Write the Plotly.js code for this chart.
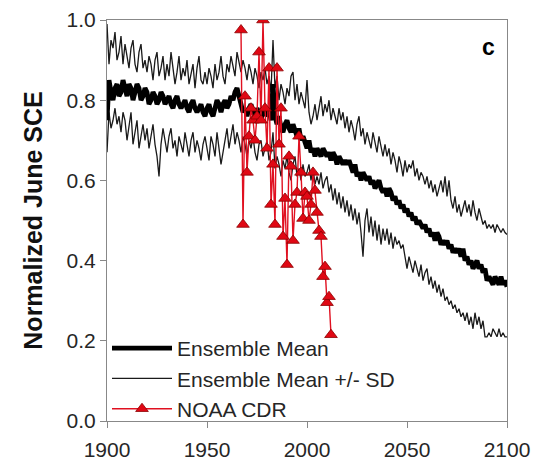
<!DOCTYPE html>
<html>
<head>
<meta charset="utf-8">
<script src="https://cdn.plot.ly/plotly-3.0.1.min.js"></script>
<style>
  html, body { margin: 0; padding: 0; background: #fff; }
  #chart { width: 533px; height: 461px; }
</style>
</head>
<body>
<div id="chart"></div>
<script>
// ---- Data ----
var modelStartYear = 1900;

var ensembleMean = [
  0.75, 0.85, 0.82, 0.80, 0.83, 0.84, 0.81, 0.82, 0.85, 0.83,
  0.81, 0.84, 0.83, 0.80, 0.82, 0.84, 0.83, 0.80, 0.81, 0.83,
  0.82, 0.79, 0.80, 0.82, 0.81, 0.79, 0.80, 0.82, 0.81, 0.79,
  0.80, 0.81, 0.79, 0.78, 0.80, 0.81, 0.79, 0.78, 0.79, 0.80,
  0.78, 0.77, 0.79, 0.80, 0.78, 0.77, 0.78, 0.79, 0.77, 0.76,
  0.78, 0.79, 0.77, 0.76, 0.78, 0.80, 0.79, 0.77, 0.79, 0.80,
  0.78, 0.79, 0.81, 0.80, 0.82, 0.83, 0.81, 0.79, 0.77, 0.78,
  0.76, 0.78, 0.79, 0.77, 0.76, 0.78, 0.77, 0.75, 0.78, 0.77,
  0.76, 0.78, 0.75, 0.84, 0.76, 0.74, 0.76, 0.73, 0.72, 0.74,
  0.75, 0.73, 0.72, 0.74, 0.72, 0.71, 0.73, 0.70, 0.71, 0.69,
  0.68, 0.70, 0.67, 0.68, 0.66, 0.68, 0.67, 0.66, 0.68, 0.67,
  0.66, 0.67, 0.65, 0.67, 0.66, 0.64, 0.66, 0.65, 0.64, 0.65,
  0.64, 0.65, 0.63, 0.62, 0.64, 0.61, 0.62, 0.60, 0.62, 0.61,
  0.60, 0.61, 0.59, 0.60, 0.58, 0.59, 0.60, 0.58, 0.57, 0.58,
  0.56, 0.58, 0.57, 0.55, 0.56, 0.54, 0.55, 0.53, 0.54, 0.52,
  0.53, 0.51, 0.52, 0.50, 0.51, 0.49, 0.50, 0.49, 0.48, 0.49,
  0.47, 0.48, 0.46, 0.47, 0.45, 0.47, 0.46, 0.44, 0.45, 0.44,
  0.45, 0.43, 0.44, 0.42, 0.43, 0.42, 0.43, 0.41, 0.43, 0.40,
  0.41, 0.39, 0.40, 0.38, 0.39, 0.40, 0.38, 0.39, 0.37, 0.38,
  0.35, 0.36, 0.35, 0.34, 0.36, 0.35, 0.34, 0.36, 0.34, 0.35,
  0.335
];

var meanPlusSD = [
  0.99, 0.89, 0.95, 0.93, 0.97, 0.90, 0.92, 0.96, 0.89, 0.94,
  0.91, 0.88, 0.93, 0.95, 0.89, 0.87, 0.92, 0.94, 0.88, 0.90,
  0.87, 0.91, 0.89, 0.85, 0.90, 0.92, 0.86, 0.88, 0.91, 0.85,
  0.89, 0.86, 0.92, 0.88, 0.84, 0.87, 0.91, 0.85, 0.88, 0.86,
  0.90, 0.84, 0.87, 0.89, 0.83, 0.88, 0.91, 0.85, 0.84, 0.87,
  0.84, 0.88, 0.86, 0.83, 0.89, 0.85, 0.87, 0.91, 0.86, 0.84,
  0.89, 0.87, 0.91, 0.88, 0.86, 0.92, 0.89, 0.87, 0.90, 0.88,
  0.85, 0.89, 0.87, 0.84, 0.88, 0.86, 0.83, 0.87, 0.85, 0.88,
  0.84, 0.86, 0.82, 0.95, 0.83, 0.86, 0.80, 0.84, 0.82, 0.79,
  0.83, 0.81, 0.86, 0.87, 0.80, 0.84, 0.79, 0.82, 0.80, 0.78,
  0.85, 0.77, 0.74, 0.76, 0.79, 0.75, 0.78, 0.81, 0.76, 0.79,
  0.77, 0.80, 0.75, 0.78, 0.76, 0.74, 0.78, 0.75, 0.77, 0.73,
  0.76, 0.72, 0.75, 0.73, 0.70, 0.74, 0.76, 0.71, 0.73, 0.69,
  0.72, 0.70, 0.68, 0.72, 0.69, 0.67, 0.71, 0.68, 0.66, 0.69,
  0.66, 0.68, 0.64, 0.67, 0.65, 0.62, 0.66, 0.64, 0.61, 0.65,
  0.62, 0.64, 0.63, 0.65, 0.61, 0.63, 0.60, 0.62, 0.61, 0.59,
  0.61, 0.58, 0.60, 0.57, 0.59, 0.56, 0.58, 0.60, 0.57, 0.61,
  0.56, 0.60, 0.55, 0.53, 0.56, 0.52, 0.54, 0.51, 0.53, 0.55,
  0.52, 0.54, 0.51, 0.55, 0.52, 0.50, 0.53, 0.51, 0.49, 0.50,
  0.48, 0.49, 0.48, 0.49, 0.47, 0.49, 0.48, 0.47, 0.48, 0.47,
  0.465
];

var meanMinusSD = [
  0.67, 0.77, 0.73, 0.75, 0.78, 0.74, 0.76, 0.72, 0.77, 0.75,
  0.70, 0.74, 0.77, 0.69, 0.72, 0.75, 0.68, 0.71, 0.74, 0.70,
  0.73, 0.68, 0.71, 0.74, 0.69, 0.66, 0.61, 0.69, 0.73, 0.70,
  0.67, 0.71, 0.73, 0.68, 0.70, 0.66, 0.71, 0.69, 0.67, 0.72,
  0.69, 0.66, 0.70, 0.72, 0.67, 0.70, 0.68, 0.65, 0.69, 0.71,
  0.68, 0.65, 0.71, 0.69, 0.66, 0.72, 0.68, 0.64, 0.67, 0.70,
  0.73, 0.68, 0.71, 0.74, 0.69, 0.72, 0.70, 0.67, 0.71, 0.69,
  0.66, 0.70, 0.68, 0.71, 0.67, 0.65, 0.69, 0.70, 0.66, 0.68,
  0.70, 0.65, 0.67, 0.72, 0.63, 0.66, 0.64, 0.61, 0.65, 0.63,
  0.66, 0.62, 0.60, 0.64, 0.66, 0.61, 0.63, 0.60, 0.64, 0.61,
  0.62, 0.64, 0.60, 0.63, 0.59, 0.61, 0.59, 0.62, 0.58, 0.60,
  0.61, 0.57, 0.59, 0.55, 0.58, 0.54, 0.57, 0.53, 0.56, 0.52,
  0.55, 0.51, 0.54, 0.50, 0.53, 0.49, 0.52, 0.47, 0.41, 0.50,
  0.53, 0.47, 0.51, 0.46, 0.50, 0.45, 0.49, 0.44, 0.48, 0.45,
  0.48, 0.44, 0.47, 0.43, 0.46, 0.44, 0.45, 0.43, 0.44, 0.41,
  0.38, 0.41, 0.39, 0.37, 0.40, 0.38, 0.36, 0.39, 0.35, 0.37,
  0.38, 0.34, 0.36, 0.33, 0.35, 0.32, 0.34, 0.31, 0.33, 0.30,
  0.31, 0.29, 0.30, 0.28, 0.29, 0.27, 0.28, 0.26, 0.27, 0.25,
  0.27, 0.24, 0.26, 0.23, 0.27, 0.24, 0.26, 0.23, 0.25, 0.21,
  0.21, 0.22, 0.21, 0.23, 0.22, 0.21, 0.23, 0.21, 0.22, 0.21,
  0.21
];

var noaaStartYear = 1967;
var noaaCDR = [
  0.975, 0.49, 0.81, 0.62, 0.71, 0.78, 0.75, 0.70, 0.76, 0.92,
  0.75, 1.00, 0.78, 0.68, 0.88, 0.54, 0.64, 0.49, 0.88, 0.69,
  0.78, 0.46, 0.555, 0.39, 0.66, 0.635, 0.45, 0.54, 0.57, 0.71,
  0.62, 0.505, 0.57, 0.56, 0.50, 0.54, 0.62, 0.575, 0.52, 0.475,
  0.46, 0.36, 0.385, 0.295, 0.31, 0.215
];

var xTickVals = [1900, 1950, 2000, 2050, 2100];
var yTickVals = [0.0, 0.2, 0.4, 0.6, 0.8, 1.0];
var seriesNames = ['Ensemble Mean', 'Ensemble Mean +/- SD', 'NOAA CDR'];
var yTitle = 'Normalized June SCE';
var panelLabel = 'c';

// ---- Build ----
function yearsFrom(start, n) {
  var out = [];
  for (var i = 0; i < n; i++) out.push(start + i);
  return out;
}
var modelYears = yearsFrom(modelStartYear, ensembleMean.length);
var noaaYears = yearsFrom(noaaStartYear, noaaCDR.length);

var FONT = '"Liberation Sans", Arial, sans-serif';
var TXT = '#262626';

var traces = [
  {
    x: modelYears, y: meanPlusSD, type: 'scatter', mode: 'lines',
    name: seriesNames[1], legendgroup: 'sd', legendrank: 2,
    line: {color: '#1a1a1a', width: 1.3}
  },
  {
    x: modelYears, y: meanMinusSD, type: 'scatter', mode: 'lines',
    name: seriesNames[1], legendgroup: 'sd', showlegend: false,
    line: {color: '#1a1a1a', width: 1.3}
  },
  {
    x: modelYears, y: ensembleMean, type: 'scatter', mode: 'lines',
    name: seriesNames[0], legendrank: 1,
    line: {color: '#000000', width: 4.8}
  },
  {
    x: noaaYears, y: noaaCDR, type: 'scatter', mode: 'lines+markers',
    name: seriesNames[2], legendrank: 3,
    line: {color: '#e01020', width: 1.4},
    marker: {symbol: 'triangle-up', size: 11, color: '#e00814',
             line: {color: '#8a0000', width: 0.8}}
  }
];

var layout = {
  width: 533, height: 461,
  margin: {l: 107, r: 26, t: 20, b: 40, pad: 0},
  paper_bgcolor: '#ffffff', plot_bgcolor: '#ffffff',
  font: {family: FONT, size: 21, color: TXT},
  showlegend: true,
  legend: {
    x: 0.0, y: 0.232, xanchor: 'left', yanchor: 'top',
    bgcolor: 'rgba(0,0,0,0)', borderwidth: 0,
    font: {family: FONT, size: 21, color: TXT},
    itemwidth: 60, tracegroupgap: 0
  },
  xaxis: {
    range: [1900, 2100], tickvals: xTickVals, ticktext: xTickVals.map(String),
    ticks: 'outside', ticklen: 6, tickwidth: 1, tickcolor: '#888888',
    ticklabelstandoff: 4,
    showline: true, linecolor: '#888888', linewidth: 1, mirror: true,
    showgrid: false, zeroline: false,
    tickfont: {family: FONT, size: 21, color: TXT}
  },
  yaxis: {
    range: [0, 1.0], tickvals: yTickVals, tickformat: '.1f',
    ticksuffix: '\u2002',
    ticks: 'outside', ticklen: 6, tickwidth: 1, tickcolor: '#888888',
    showline: true, linecolor: '#888888', linewidth: 1, mirror: true,
    showgrid: false, zeroline: false,
    tickfont: {family: FONT, size: 21, color: TXT},
    title: {text: '<b>' + yTitle + '</b>', standoff: 16,
            font: {family: FONT, size: 25, color: '#111111'}}
  },
  annotations: [{
    xref: 'paper', yref: 'paper', x: 0.975, y: 0.97,
    xanchor: 'right', yanchor: 'top', showarrow: false,
    text: '<b>' + panelLabel + '</b>',
    font: {family: FONT, size: 23, color: '#000000'}
  }]
};

Plotly.newPlot('chart', traces, layout, {displayModeBar: false, staticPlot: true});
</script>
</body>
</html>
